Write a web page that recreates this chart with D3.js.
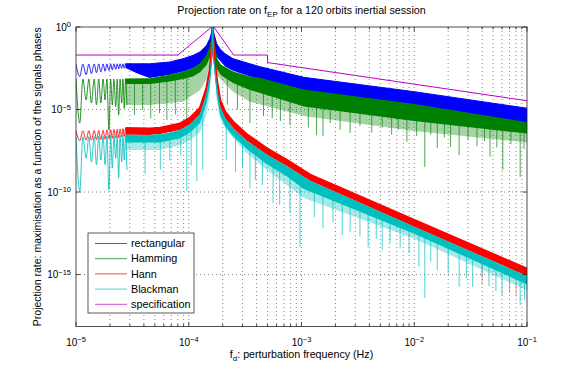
<!doctype html>
<meta charset="utf-8">
<title>Projection rate on f_EP</title>
<style>
    body {
        margin: 0;
        background: #fff;
    }

    svg {
        display: block;
        font-family: "Liberation Sans", Arial, Helvetica, sans-serif;
    }

    text {
        fill: #000;
    }

    .grid line {
        stroke: #666;
        stroke-width: 0.8;
        stroke-dasharray: 1 3;
    }

    .frame {
        fill: none;
        stroke: #222;
        stroke-width: 0.8;
    }

    .tick {
        stroke: #222;
        stroke-width: 0.8;
    }
</style>
<svg width=581 height=365></svg>
<script src=https://cdn.jsdelivr.net/npm/d3@7/dist/d3.min.js></script>
<script>
    // ---- data ----
    var seriesNames = ['rectangular', 'Hamming', 'Hann', 'Blackman', 'specification'];

    var xTicks = [1e-5, 1e-4, 1e-3, 1e-2, 1e-1];
    var xTickLabels = ['10^\u22125', '10^\u22124', '10^\u22123', '10^\u22122', '10^\u22121'];
    var yTicks = [1e-15, 1e-10, 1e-5, 1];
    var yTickLabels = ['10^\u221215', '10^\u221210', '10^\u22125', '10^0'];

    // low frequency side lobes (peak, null, peak, null ...), same frequencies for every window
    var lobeFreqs = [1.00e-5, 1.08e-5, 1.15e-5, 1.23e-5, 1.30e-5, 1.37e-5, 1.45e-5, 1.52e-5, 1.59e-5, 1.66e-5,
        1.74e-5, 1.81e-5, 1.88e-5, 1.96e-5, 2.03e-5, 2.10e-5, 2.17e-5, 2.25e-5, 2.32e-5, 2.39e-5,
        2.46e-5, 2.54e-5, 2.61e-5, 2.68e-5, 2.75e-5, 2.83e-5];

    var rectLobes = [5.7e-3, 1.0e-3, 5.7e-3, 1.3e-3, 5.7e-3, 1.5e-3, 5.8e-3, 1.7e-3, 5.8e-3, 1.9e-3,
        5.8e-3, 2.1e-3, 5.8e-3, 2.3e-3, 5.8e-3, 2.5e-3, 5.9e-3, 2.7e-3, 5.9e-3, 2.9e-3,
        5.9e-3, 3.1e-3, 5.9e-3, 3.2e-3, 5.9e-3, 3.3e-3];
    var hammingLobes = [7.0e-4, 1.5e-6, 7.0e-4, 3.8e-5, 7.0e-4, 2.5e-5, 7.0e-4, 1.9e-5, 7.0e-4, 2.5e-5,
        7.0e-4, 3.8e-5, 7.0e-4, 5.7e-7, 7.0e-4, 1.9e-5, 7.0e-4, 1.5e-5, 7.0e-4, 4.7e-6,
        7.0e-4, 2.5e-5, 7.1e-4, 1.2e-5, 7.1e-4, 1.9e-5];
    var hannLobes = [5.0e-7, 1.3e-7, 5.1e-7, 1.4e-7, 5.2e-7, 1.4e-7, 5.3e-7, 1.5e-7, 5.4e-7, 1.5e-7,
        5.6e-7, 1.6e-7, 5.8e-7, 1.7e-7, 6.0e-7, 1.8e-7, 6.2e-7, 1.9e-7, 6.4e-7, 2.0e-7,
        6.6e-7, 2.2e-7, 6.8e-7, 2.4e-7, 7.0e-7, 2.6e-7];
    var blackmanLobes = [2.2e-7, 1.1e-10, 2.2e-7, 1.1e-8, 2.3e-7, 6.6e-9, 2.3e-7, 4.4e-9, 2.4e-7, 8.7e-9,
        2.4e-7, 4.4e-9, 2.5e-7, 1.3e-10, 2.5e-7, 2.8e-9, 2.6e-7, 1.1e-8, 2.6e-7, 7.1e-10,
        2.7e-7, 6.6e-9, 2.7e-7, 8.7e-9, 2.8e-7, 2.2e-9];

    // dense part of each curve [frequency, rate]: upper edge, lower edge of the solid core,
    // lower edge of the lighter ragged fringe
    var rectTop = [[2.75e-5, 5.9e-3], [4.5e-5, 5.9e-3], [6.8e-5, 7.6e-3], [8.9e-5, 1.2e-2], [1.09e-4, 1.9e-2],
        [1.26e-4, 3.1e-2], [1.44e-4, 7.8e-2], [1.54e-4, 0.2], [1.60e-4, 0.5], [1.63e-4, 1], [1.67e-4, 0.4],
        [1.77e-4, 9.7e-2], [1.89e-4, 4.8e-2], [2.1e-4, 2.4e-2], [2.47e-4, 1.2e-2], [3.49e-4, 5.9e-3],
        [4.3e-4, 3.9e-3], [1.05e-3, 8.9e-4], [1e-2, 1.2e-4], [1e-1, 1.2e-5]];
    var rectBottom = [[2.75e-5, 3.3e-3], [3.5e-5, 1.5e-3], [4.5e-5, 8e-4], [6.8e-5, 1.3e-3], [8.9e-5, 2.0e-3],
        [1.09e-4, 3.2e-3], [1.26e-4, 6e-3], [1.44e-4, 1.5e-2], [1.54e-4, 5e-2], [1.63e-4, 0.5], [1.70e-4, 4e-2],
        [1.77e-4, 1.5e-2], [2.1e-4, 4e-3], [2.47e-4, 2.2e-3], [3.49e-4, 1.0e-3], [1.05e-3, 1.4e-4], [1e-2, 2e-5],
        [1e-1, 1.5e-6]];

    var hammingTop = [[2.75e-5, 7.1e-4], [4.5e-5, 7.2e-4], [6.8e-5, 1.2e-3], [8.9e-5, 1.9e-3], [1.09e-4, 3e-3],
        [1.26e-4, 5.9e-3], [1.44e-4, 1.9e-2], [1.54e-4, 6.1e-2], [1.60e-4, 0.2], [1.63e-4, 1], [1.67e-4, 0.15],
        [1.77e-4, 1.2e-2], [1.93e-4, 4.8e-3], [2.47e-4, 1.9e-3], [3.49e-4, 9.3e-4], [4.3e-4, 7.7e-4],
        [1.05e-3, 1.5e-4], [1e-2, 2e-5], [1e-1, 1.6e-6]];
    var hammingBottom = [[2.75e-5, 3.5e-4], [4.5e-5, 3.5e-4], [6.8e-5, 5e-4], [8.9e-5, 7e-4], [1.09e-4, 1e-3],
        [1.26e-4, 1.8e-3], [1.44e-4, 5e-3], [1.54e-4, 1.5e-2], [1.63e-4, 0.3], [1.70e-4, 1e-2], [1.77e-4, 3e-3],
        [1.93e-4, 1.2e-3], [2.47e-4, 4e-4], [3.49e-4, 1.5e-4], [4.3e-4, 1.0e-4], [1.05e-3, 1.5e-5],
        [1e-2, 2e-6], [1e-1, 3.5e-7]];
    var hammingFringe = [[2.75e-5, 1.9e-5], [4.5e-5, 1.9e-5], [8.9e-5, 3e-5], [1.26e-4, 1.5e-4], [1.44e-4, 7e-4],
        [1.54e-4, 7e-3], [1.63e-4, 0.3], [1.70e-4, 5e-3], [1.77e-4, 1.2e-3], [2.47e-4, 1.2e-4], [3.49e-4, 3e-5],
        [1.05e-3, 4e-6], [1e-2, 5e-7], [1e-1, 1e-7]];

    var hannTop = [[2.75e-5, 7.2e-7], [4.5e-5, 6.9e-7], [5.6e-5, 7.6e-7], [6.8e-5, 1.0e-6], [8.4e-5, 1.4e-6],
        [1.03e-4, 3.1e-6], [1.26e-4, 1.2e-5], [1.44e-4, 2.0e-4], [1.54e-4, 2.5e-3], [1.60e-4, 4.0e-2], [1.63e-4, 1],
        [1.66e-4, 4.0e-2], [1.77e-4, 6.1e-4], [1.89e-4, 3.8e-5], [2.1e-4, 7.0e-6], [2.47e-4, 1.8e-6],
        [3.27e-4, 3.1e-7], [4.9e-4, 4.5e-8], [7.4e-4, 8.7e-9], [1.19e-3, 1.1e-9], [1e-2, 2.0e-12], [1e-1, 2.2e-15]];
    var hannBottom = [[2.75e-5, 3.0e-7], [4.5e-5, 2.9e-7], [5.6e-5, 3.3e-7], [6.8e-5, 4.3e-7], [8.4e-5, 6.0e-7],
        [1.03e-4, 1.3e-6], [1.26e-4, 5.2e-6], [1.44e-4, 8.7e-5], [1.54e-4, 1.1e-3], [1.60e-4, 1.7e-2], [1.63e-4, 0.5],
        [1.66e-4, 1.7e-2], [1.77e-4, 2.6e-4], [1.89e-4, 1.6e-5], [2.1e-4, 3.0e-6], [2.47e-4, 7.8e-7],
        [3.27e-4, 1.3e-7], [4.9e-4, 1.9e-8], [7.4e-4, 3.8e-9], [1.19e-3, 4.8e-10], [1e-2, 8.0e-13], [1e-1, 8.1e-16]];

    var blackmanTop = [[2.75e-5, 2.8e-7], [4.5e-5, 2.7e-7], [5.6e-5, 3.0e-7], [6.8e-5, 3.8e-7], [8.4e-5, 5.5e-7],
        [1.03e-4, 1.2e-6], [1.26e-4, 4.8e-6], [1.44e-4, 8e-5], [1.54e-4, 1e-3], [1.60e-4, 1.5e-2], [1.63e-4, 1],
        [1.66e-4, 1.5e-2], [1.77e-4, 2.4e-4], [1.89e-4, 1.5e-5], [2.1e-4, 2.8e-6], [2.47e-4, 7.2e-7],
        [3.27e-4, 1.2e-7], [4.9e-4, 1.8e-8], [7.4e-4, 3.5e-9], [1.19e-3, 4.5e-10], [1e-2, 7.5e-13], [1e-1, 7.5e-16]];
    var blackmanBottom = [[2.75e-5, 1.0e-7], [5.6e-5, 1.0e-7], [8.4e-5, 1.8e-7], [1.03e-4, 4e-7], [1.26e-4, 1.5e-6],
        [1.44e-4, 2.5e-5], [1.54e-4, 3e-4], [1.60e-4, 1e-2], [1.63e-4, 0.1], [1.66e-4, 1e-2], [1.77e-4, 8e-5],
        [1.89e-4, 5e-6], [2.1e-4, 1.0e-6], [2.47e-4, 2.5e-7], [3.27e-4, 4e-8], [4.9e-4, 5e-9], [7.4e-4, 9e-10],
        [1.05e-3, 1.5e-10], [1e-2, 3e-13], [1e-1, 2.5e-16]];
    var blackmanFringe = [[2.75e-5, 3.5e-8], [5.6e-5, 3.5e-8], [8.4e-5, 7.1e-8], [1.03e-4, 1.4e-7], [1.26e-4, 4.4e-7],
        [1.44e-4, 4.7e-6], [1.54e-4, 7.6e-5], [1.60e-4, 1e-2], [1.63e-4, 0.1], [1.66e-4, 1e-2], [1.77e-4, 3.8e-5],
        [1.89e-4, 3.1e-6], [2.1e-4, 7.6e-7], [2.47e-4, 1.9e-7], [3.27e-4, 2.3e-8], [4.9e-4, 2.2e-9],
        [7.4e-4, 2.7e-10], [1.05e-3, 4.3e-11], [1e-2, 1.5e-13], [1e-1, 1.1e-16]];

    // isolated dips [frequency, rate]
    var hammingSpikes = [[3.3e-5, 4.7e-6], [3.9e-5, 9e-6], [4.6e-5, 3e-6], [5.5e-5, 6e-6], [6.4e-5, 2.3e-6],
        [7.6e-5, 5e-6], [9.6e-5, 2.6e-6], [2.2e-4, 2e-5], [2.7e-4, 1e-5], [3.49e-4, 1.5e-6], [4.6e-4, 4e-6],
        [5.5e-4, 3e-6], [6.5e-4, 2e-6], [7.9e-4, 1.1e-6], [1.15e-3, 8e-7], [1.36e-3, 2.8e-7], [1.55e-3, 2.5e-7],
        [1.8e-3, 1.5e-6], [2.2e-3, 6e-7], [2.7e-3, 3.8e-7], [3.3e-3, 1e-6], [4.2e-3, 4e-7], [5.2e-3, 8e-7],
        [6.3e-3, 3e-7], [7.2e-3, 6e-7], [8.6e-3, 1.1e-7], [1.05e-2, 2.5e-7], [1.24e-2, 3.3e-9], [1.4e-2, 3e-7],
        [1.6e-2, 4.7e-8], [1.85e-2, 2e-7], [2.1e-2, 5.5e-8], [2.5e-2, 1.7e-8], [3.0e-2, 1.5e-7], [3.6e-2, 6e-8],
        [4.2e-2, 1.2e-7], [4.7e-2, 1.4e-8], [5.4e-2, 5e-8], [6.1e-2, 2.2e-9], [7.2e-2, 8e-8], [8.7e-2, 8.1e-10],
        [9.4e-2, 4e-8]];
    var hannSpikes = [[4.0e-2, 2.5e-16], [8.0e-2, 4.6e-17]];
    var blackmanSpikes = [[4.1e-5, 1.3e-9], [5.6e-5, 2.2e-9], [6.8e-5, 8e-9], [8.5e-5, 1.7e-8], [9.6e-5, 1.1e-10],
        [1.05e-4, 4e-9], [1.18e-4, 4.6e-10], [1.33e-4, 2.2e-9], [2.15e-4, 8.7e-9], [2.6e-4, 1.6e-9],
        [3.0e-4, 2.8e-9], [3.49e-4, 1.7e-10], [3.9e-4, 5.4e-10], [4.5e-4, 2.7e-10], [5.6e-4, 2.2e-11],
        [6.4e-4, 1.7e-11], [7.9e-4, 5.3e-12], [9.7e-4, 4.7e-14], [1.3e-3, 3e-12], [1.55e-3, 6.6e-13],
        [1.9e-3, 1.5e-12], [2.3e-3, 2.5e-13], [2.7e-3, 4e-13], [3.3e-3, 2e-13], [3.9e-3, 4.7e-14],
        [4.6e-3, 1.5e-13], [5.2e-3, 3e-14], [6.1e-3, 8.1e-14], [7.5e-3, 4e-14], [9e-3, 2e-14], [1.1e-2, 3e-15],
        [1.24e-2, 3.8e-17], [1.4e-2, 6e-15], [1.6e-2, 1.9e-15], [2.0e-2, 1.2e-15], [2.5e-2, 1.8e-16],
        [2.9e-2, 6e-16], [3.3e-2, 1.8e-16], [4.0e-2, 7.4e-16], [4.6e-2, 2e-16], [5.3e-2, 1e-16], [6.0e-2, 5.7e-17],
        [7.0e-2, 8e-17], [8.7e-2, 1.4e-17], [9.5e-2, 3e-17]];

    var specFreqs = [1e-5, 8e-5, 1.6e-4, 1.67e-4, 2.5e-4, 5e-4, 5e-4, 1e-1];
    var specRates = [2e-2, 2e-2, 1, 1, 2e-2, 2e-2, 7e-3, 3.4e-5];

    // ---- drawing ----
    var colors = ['#0000ff', '#008000', '#ff0000', '#00bfbf', '#bf00bf'];

    var svg = d3.select('svg');
    var margin = {top: 27, right: 54, bottom: 38.5, left: 76};
    var width = +svg.attr('width') - margin.left - margin.right;
    var height = +svg.attr('height') - margin.top - margin.bottom;

    var x = d3.scaleLog().domain([1e-5, 1e-1]).range([0, width]);
    var y = d3.scaleLog().domain([7.1e-19, 1]).range([height, 0]);

    svg.append('defs').append('clipPath').attr('id', 'clip')
        .append('rect').attr('width', width).attr('height', height);

    var g = svg.append('g').attr('transform', 'translate(' + margin.left + ',' + margin.top + ')');

    // grid (under the data, like matlab)
    var minorX = x.ticks().filter(function (t) { return t > 1.001e-5 && t < 0.999e-1; });
    var grid = g.append('g').attr('class', 'grid');
    grid.selectAll('.gx').data(minorX).enter().append('line').attr('class', 'gx')
        .attr('x1', function (d) { return x(d); }).attr('x2', function (d) { return x(d); })
        .attr('y1', 0).attr('y2', height);
    grid.selectAll('.gy').data(yTicks.filter(function (t) { return t < 1; })).enter().append('line').attr('class', 'gy')
        .attr('y1', function (d) { return y(d); }).attr('y2', function (d) { return y(d); })
        .attr('x1', 0).attr('x2', width);

    var plot = g.append('g').attr('clip-path', 'url(#clip)');

    var series = [
        {lobes: rectLobes, top: rectTop, bottom: rectBottom, fringe: null, spikes: [], edge: 1},
        {lobes: hammingLobes, top: hammingTop, bottom: hammingBottom, fringe: hammingFringe, spikes: hammingSpikes, edge: 1},
        {lobes: hannLobes, top: hannTop, bottom: hannBottom, fringe: null, spikes: hannSpikes, edge: 2.5},
        {lobes: blackmanLobes, top: blackmanTop, bottom: blackmanBottom, fringe: blackmanFringe, spikes: blackmanSpikes, edge: 1}
    ];

    var pts = d3.line()
        .x(function (d) { return x(d[0]); })
        .y(function (d) { return y(d[1]); });
    var smooth = d3.line()
        .curve(d3.curveMonotoneX)
        .x(function (d) { return x(d[0]); })
        .y(function (d) { return y(d[1]); });

    function band(top, bottom) {
        return pts(top.concat(bottom.slice().reverse())) + 'Z';
    }

    series.forEach(function (s, i) {
        var color = colors[i];
        var layer = plot.append('g').attr('class', 'series');

        // lighter ragged fringe under the band
        if (s.fringe) {
            layer.append('path')
                .attr('d', band(s.top, s.fringe))
                .attr('fill', color)
                .attr('fill-opacity', 0.35);
        }

        // visible side lobes at low frequency
        layer.append('path')
            .attr('d', smooth(lobeFreqs.map(function (f, k) { return [f, s.lobes[k]]; })))
            .attr('fill', 'none')
            .attr('stroke', color)
            .attr('stroke-opacity', 0.85)
            .attr('stroke-width', 1);

        // solid core of the band
        layer.append('path')
            .attr('d', band(s.top, s.bottom))
            .attr('fill', color);
        layer.append('path')
            .attr('d', pts(s.top))
            .attr('fill', 'none')
            .attr('stroke', color)
            .attr('stroke-width', s.edge);

        // dips hanging from the band
        var edgeY = d3.scaleLinear()
            .domain(s.top.map(function (d) { return x(d[0]); }))
            .range(s.top.map(function (d) { return y(d[1]); }));
        layer.selectAll('.spike').data(s.spikes).enter().append('line')
            .attr('class', 'spike')
            .attr('x1', function (d) { return x(d[0]); })
            .attr('x2', function (d) { return x(d[0]); })
            .attr('y1', function (d) { return edgeY(x(d[0])) + 4; })
            .attr('y2', function (d) { return y(d[1]); })
            .attr('stroke', color)
            .attr('stroke-width', 1)
            .attr('stroke-opacity', i === 2 ? 0.4 : 0.7);
    });

    plot.append('path')
        .attr('d', pts(specFreqs.map(function (f, k) { return [f, specRates[k]]; })))
        .attr('fill', 'none')
        .attr('stroke', colors[4])
        .attr('stroke-width', 1);

    // frame and ticks on top
    g.append('rect').attr('class', 'frame').attr('width', width).attr('height', height);

    var ticks = g.append('g');
    x.ticks().forEach(function (t) {
        var len = xTicks.some(function (m) { return Math.abs(m / t - 1) < 1e-6; }) ? 4.5 : 2.5;
        ticks.append('line').attr('class', 'tick').attr('x1', x(t)).attr('x2', x(t)).attr('y1', height).attr('y2', height - len);
        ticks.append('line').attr('class', 'tick').attr('x1', x(t)).attr('x2', x(t)).attr('y1', 0).attr('y2', len);
    });
    yTicks.forEach(function (t) {
        ticks.append('line').attr('class', 'tick').attr('x1', 0).attr('x2', 4.5).attr('y1', y(t)).attr('y2', y(t));
        ticks.append('line').attr('class', 'tick').attr('x1', width).attr('x2', width - 4.5).attr('y1', y(t)).attr('y2', y(t));
    });

    function powerLabel(sel, label) {
        var parts = label.split('^');
        sel.append('tspan').text(parts[0]);
        sel.append('tspan').attr('dy', '-0.45em').attr('font-size', '7.5px').text(parts[1]);
    }

    xTickLabels.forEach(function (lab, k) {
        var t = g.append('text')
            .attr('x', x(xTicks[k]))
            .attr('y', height + 19)
            .attr('text-anchor', 'middle')
            .attr('font-size', '10px');
        powerLabel(t, lab);
    });
    yTickLabels.forEach(function (lab, k) {
        var t = g.append('text')
            .attr('x', -5)
            .attr('y', y(yTicks[k]) + 3.5)
            .attr('text-anchor', 'end')
            .attr('font-size', '10px');
        powerLabel(t, lab);
    });

    // title and axis labels
    var title = svg.append('text')
        .attr('x', margin.left + width / 2)
        .attr('y', 14)
        .attr('text-anchor', 'middle')
        .attr('font-size', '10.7px');
    title.append('tspan').text('Projection rate on f');
    title.append('tspan').attr('dy', 3).attr('font-size', '8px').text('EP');
    title.append('tspan').attr('dy', -3).text(' for a 120 orbits inertial session');

    var xlab = svg.append('text')
        .attr('x', margin.left + width / 2)
        .attr('y', 358)
        .attr('text-anchor', 'middle')
        .attr('font-size', '10.7px');
    xlab.append('tspan').text('f');
    xlab.append('tspan').attr('dy', 3).attr('font-size', '8px').text('d');
    xlab.append('tspan').attr('dy', -3).text(': perturbation frequency (Hz)');

    svg.append('text')
        .attr('transform', 'translate(41,' + (margin.top + height / 2) + ') rotate(-90)')
        .attr('text-anchor', 'middle')
        .attr('font-size', '10.5px')
        .text('Projection rate: maximisation as a function of the signals phases');

    // legend
    var legend = svg.append('g').attr('transform', 'translate(88,233)');
    legend.append('rect').attr('width', 106).attr('height', 80)
        .attr('fill', '#fff').attr('stroke', '#333').attr('stroke-width', 0.8);
    seriesNames.forEach(function (name, k) {
        var ly = 10.5 + k * 15.2;
        legend.append('line').attr('x1', 7).attr('x2', 39).attr('y1', ly).attr('y2', ly)
            .attr('stroke', colors[k]).attr('stroke-width', 1).attr('stroke-opacity', 0.7);
        legend.append('text').attr('x', 43).attr('y', ly).attr('dy', '0.35em')
            .attr('font-size', '10.8px').text(name);
    });
</script>
